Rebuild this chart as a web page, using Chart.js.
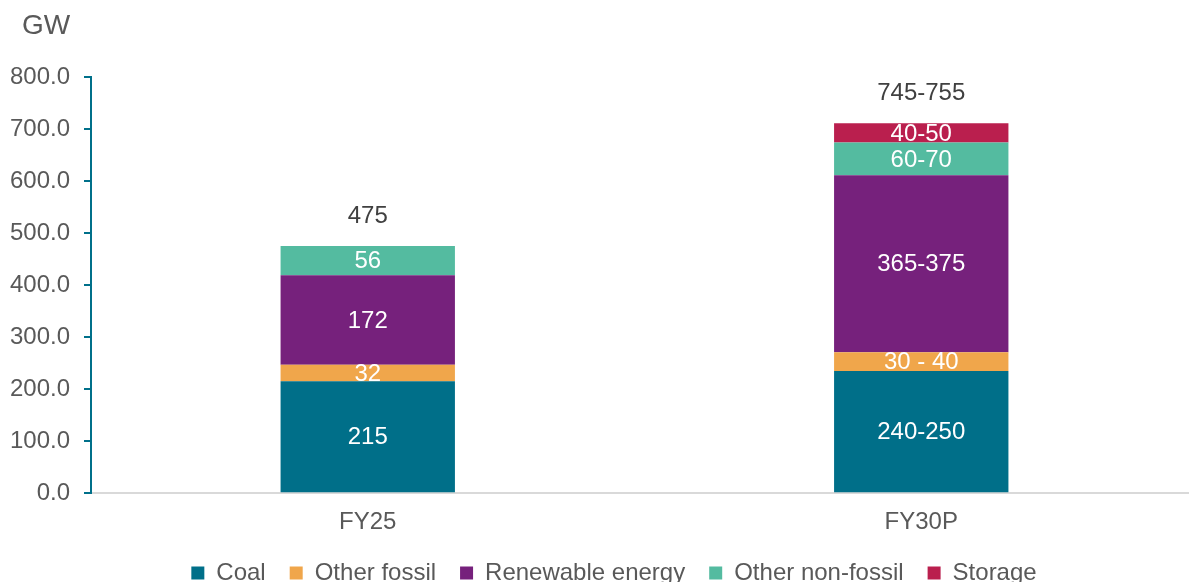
<!DOCTYPE html>
<html>
<head>
<meta charset="utf-8">
<script src="https://cdn.jsdelivr.net/npm/chart.js@4.4.1/dist/chart.umd.min.js"></script>
<style>
  html, body { margin: 0; padding: 0; background: #fff; overflow: hidden; }
  #wrap { position: relative; width: 1198px; height: 602px; }
</style>
</head>
<body>
<div id="wrap"><canvas id="grafico"></canvas></div>
<script>
// dados do gráfico (GW)
const categorias = ['FY25', 'FY30P'];
const carvao = [215, 235];
const outrosFosseis = [32, 36];
const renovaveis = [172, 340];
const outrosNaoFosseis = [56, 63];
const armazenamento = [0, 37];

// rótulos exibidos
const rotulosCarvao = ['215', '240-250'];
const rotulosOutrosFosseis = ['32', '30 - 40'];
const rotulosRenovaveis = ['172', '365-375'];
const rotulosNaoFosseis = ['56', '60-70'];
const rotulosArmazenamento = ['', '40-50'];
const rotulosTotal = ['475', '745-755'];

const ticksY = [0, 100, 200, 300, 400, 500, 600, 700, 800];
const unidade = 'GW';

const fonte = "'Liberation Sans', Arial, sans-serif";

const series = [
    { label: 'Coal', data: carvao, cor: '#006F89', rotulos: rotulosCarvao },
    { label: 'Other fossil', data: outrosFosseis, cor: '#F0A64B', rotulos: rotulosOutrosFosseis },
    { label: 'Renewable energy', data: renovaveis, cor: '#76217C', rotulos: rotulosRenovaveis },
    { label: 'Other non-fossil', data: outrosNaoFosseis, cor: '#54BBA0', rotulos: rotulosNaoFosseis },
    { label: 'Storage', data: armazenamento, cor: '#BA1F4E', rotulos: rotulosArmazenamento },
];

// plugin simples para escrever os valores nas barras, o total acima e a unidade
const rotulosPlugin = {
    id: 'rotulos',
    afterLayout(chart) {
        // legenda um pouco deslocada, como no original
        if (chart.legend) {
            chart.legend.left += 15;
            chart.legend.right += 15;
            chart.legend.top -= 7;
            chart.legend.bottom -= 7;
        }
    },
    afterDatasetsDraw(chart) {
        const ctx = chart.ctx;
        ctx.save();
        ctx.font = `24px ${fonte}`;
        ctx.textAlign = 'center';
        ctx.textBaseline = 'middle';
        chart.data.datasets.forEach((ds, i) => {
            const meta = chart.getDatasetMeta(i);
            meta.data.forEach((bar, j) => {
                const texto = series[i].rotulos[j];
                if (!texto || !ds.data[j]) return;
                ctx.fillStyle = '#FFFFFF';
                ctx.fillText(texto, bar.x, (bar.y + bar.base) / 2 + 1);
            });
        });
        const yScale = chart.scales.y;
        const metaBase = chart.getDatasetMeta(0);
        categorias.forEach((_, j) => {
            const soma = series.reduce((acc, s) => acc + (s.data[j] || 0), 0);
            const y = yScale.getPixelForValue(soma);
            ctx.fillStyle = '#404040';
            ctx.fillText(rotulosTotal[j], metaBase.data[j].x, y - 30);
        });
        // unidade no canto superior esquerdo
        ctx.font = `28px ${fonte}`;
        ctx.textAlign = 'left';
        ctx.fillStyle = '#595959';
        ctx.fillText(unidade, 22, 26);
        ctx.restore();
    }
};

const ctx = document.getElementById('grafico').getContext('2d');

new Chart(ctx, {
    type: 'bar',
    data: {
        labels: categorias,
        datasets: series.map(s => ({
            label: s.label,
            data: s.data,
            backgroundColor: s.cor,
            borderWidth: 0,
            barPercentage: 0.315,
            categoryPercentage: 1,
        }))
    },
    options: {
        responsive: true,
        maintainAspectRatio: false,
        animation: false,
        layout: { padding: { left: 0, right: 0, top: 77, bottom: 0 } },
        scales: {
            x: {
                stacked: true,
                grid: { display: false },
                border: { display: true, color: '#D9D9D9', width: 2 },
                ticks: { color: '#595959', font: { family: fonte, size: 24 }, padding: 7 }
            },
            y: {
                stacked: true,
                min: 0,
                max: 800,
                afterFit(scale) { scale.width = 91; },
                afterBuildTicks(scale) { scale.ticks = ticksY.map(v => ({ value: v })); },
                grid: { drawOnChartArea: false, drawTicks: true, tickLength: 7, color: '#00708A', lineWidth: 2 },
                border: { display: true, color: '#00708A', width: 2 },
                ticks: {
                    color: '#595959',
                    font: { family: fonte, size: 24 },
                    padding: 14,
                    callback: function(value) { return Number(value).toFixed(1); }
                }
            }
        },
        plugins: {
            title: { display: false },
            legend: {
                position: 'bottom',
                labels: {
                    color: '#595959',
                    font: { family: fonte, size: 24 },
                    boxWidth: 13,
                    boxHeight: 13,
                    padding: 24
                }
            },
            tooltip: { enabled: false }
        }
    },
    plugins: [rotulosPlugin]
});
</script>
</body>
</html>
